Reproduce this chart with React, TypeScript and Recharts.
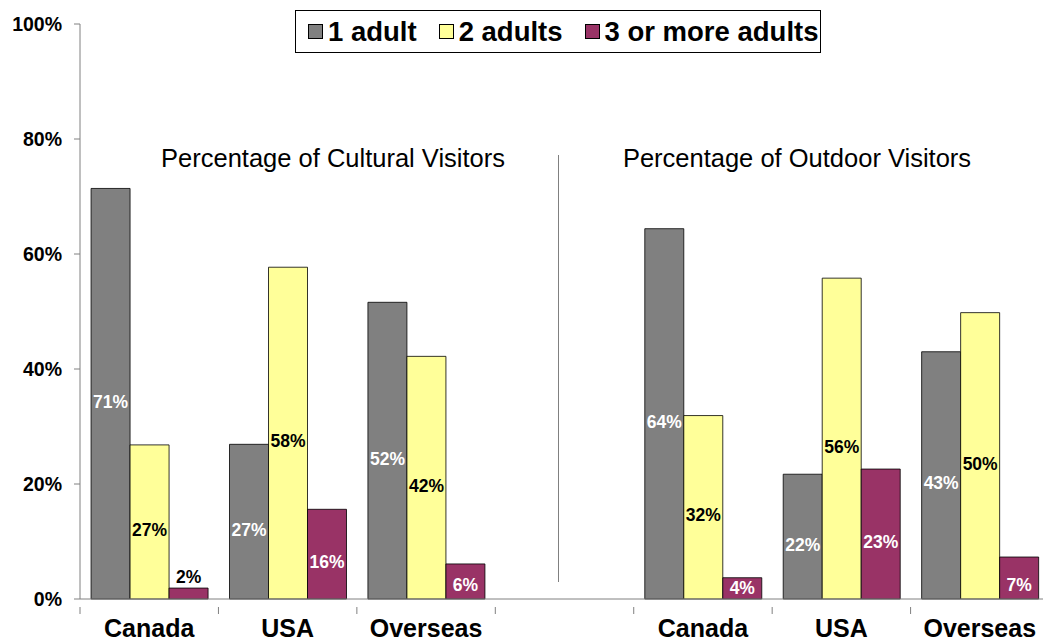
import { Bar, BarChart, XAxis, YAxis } from "recharts";

const categories = ["Canada", "USA", "Overseas", " ", "Canada", "USA", "Overseas"];
const oneAdult = [71.4, 26.9, 51.6, null, 64.4, 21.7, 43.0];
const twoAdults = [26.8, 57.7, 42.2, null, 31.9, 55.8, 49.8];
const threePlus = [1.9, 15.6, 6.1, null, 3.7, 22.6, 7.3];
const yTicks = [0, 20, 40, 60, 80, 100];

const seriesNames = ["1 adult", "2 adults", "3 or more adults"];
const seriesColors = ["#808080", "#FFFF99", "#993366"];
const labelColors = ["#ffffff", "#000000", "#ffffff"];

const FONT = "'Liberation Sans', Arial, Helvetica, sans-serif";
const BAND = 138.4;

const chartData = categories.map((name, i) => ({
  key: i,
  name,
  a: oneAdult[i],
  b: twoAdults[i],
  c: threePlus[i],
}));

function makeLabel(color: string) {
  return (props: any) => {
    const { x, y, width, height, value } = props;
    if (value == null) return null;
    const fits = height >= 18;
    // labels sit a bit below the bar middle, as in the original
    const shift = Math.min(8, Math.max(0, height / 2 - 14));
    const cy = fits ? y + height / 2 + shift : y - 11;
    return (
      <text
        x={x + width / 2}
        y={cy}
        textAnchor="middle"
        dominantBaseline="central"
        fontFamily={FONT}
        fontWeight="bold"
        fontSize={17.5}
        fill={fits ? color : "#000"}
      >
        {Math.round(value)}%
      </text>
    );
  };
}

function CategoryTick(props: any) {
  const { x, y, payload } = props;
  const label = categories[payload.value] ?? "";
  return (
    <g>
      <line x1={x - BAND / 2} x2={x - BAND / 2} y1={y} y2={y + 7} stroke="#808080" />
      <text
        x={x}
        y={y + 30}
        textAnchor="middle"
        fontFamily={FONT}
        fontWeight="bold"
        fontSize={25}
        fill="#000"
      >
        {label}
      </text>
    </g>
  );
}

function LegendBox() {
  return (
    <div
      style={{
        position: "absolute",
        left: 295,
        top: 10,
        width: 526,
        height: 43,
        boxSizing: "border-box",
        display: "flex",
        alignItems: "center",
        border: "1px solid #000",
        background: "#fff",
        paddingLeft: 12,
        fontFamily: FONT,
        fontWeight: "bold",
        fontSize: 27.5,
        whiteSpace: "nowrap",
      }}
    >
      {seriesNames.map((n, i) => (
        <div key={n} style={{ display: "flex", alignItems: "center", marginLeft: i ? 22 : 0 }}>
          <div
            style={{
              width: 15,
              height: 15,
              boxSizing: "border-box",
              background: seriesColors[i],
              border: "1px solid #000",
              marginRight: 5,
            }}
          />
          <span>{n}</span>
        </div>
      ))}
    </div>
  );
}

const titleStyle = {
  position: "absolute" as const,
  top: 146,
  width: 400,
  textAlign: "center" as const,
  fontFamily: FONT,
  fontSize: 25.5,
  lineHeight: 1,
  whiteSpace: "nowrap" as const,
};

export default function App() {
  return (
    <div
      style={{
        position: "fixed",
        top: 0,
        left: 0,
        width: 1043,
        height: 641,
        overflow: "hidden",
        background: "#fff",
      }}
    >
      <BarChart
        width={1060}
        height={641}
        data={chartData}
        margin={{ top: 24, right: 11, left: 0, bottom: 0 }}
        barCategoryGap="8%"
        barGap={0}
      >
        <XAxis
          dataKey="key"
          height={42}
          stroke="#808080"
          tickLine={false}
          interval={0}
          tick={<CategoryTick />}
        />
        <YAxis
          width={80}
          domain={[0, 100]}
          ticks={yTicks}
          stroke="#808080"
          tickSize={6}
          tickMargin={12}
          tickFormatter={(v) => `${v}%`}
          tick={{ fill: "#000", fontFamily: FONT, fontWeight: "bold", fontSize: 19.5 }}
        />
        {["a", "b", "c"].map((k, i) => (
          <Bar
            key={k}
            dataKey={k}
            name={seriesNames[i]}
            fill={seriesColors[i]}
            stroke="#000"
            strokeWidth={0.8}
            isAnimationActive={false}
            label={makeLabel(labelColors[i])}
          />
        ))}
      </BarChart>
      <LegendBox />
      <div style={{ ...titleStyle, left: 333 - 200 }}>Percentage of Cultural Visitors</div>
      <div style={{ ...titleStyle, left: 797 - 200 }}>Percentage of Outdoor Visitors</div>
      <div
        style={{
          position: "absolute",
          left: 558,
          top: 155,
          width: 1,
          height: 427,
          background: "#808080",
        }}
      />
    </div>
  );
}
